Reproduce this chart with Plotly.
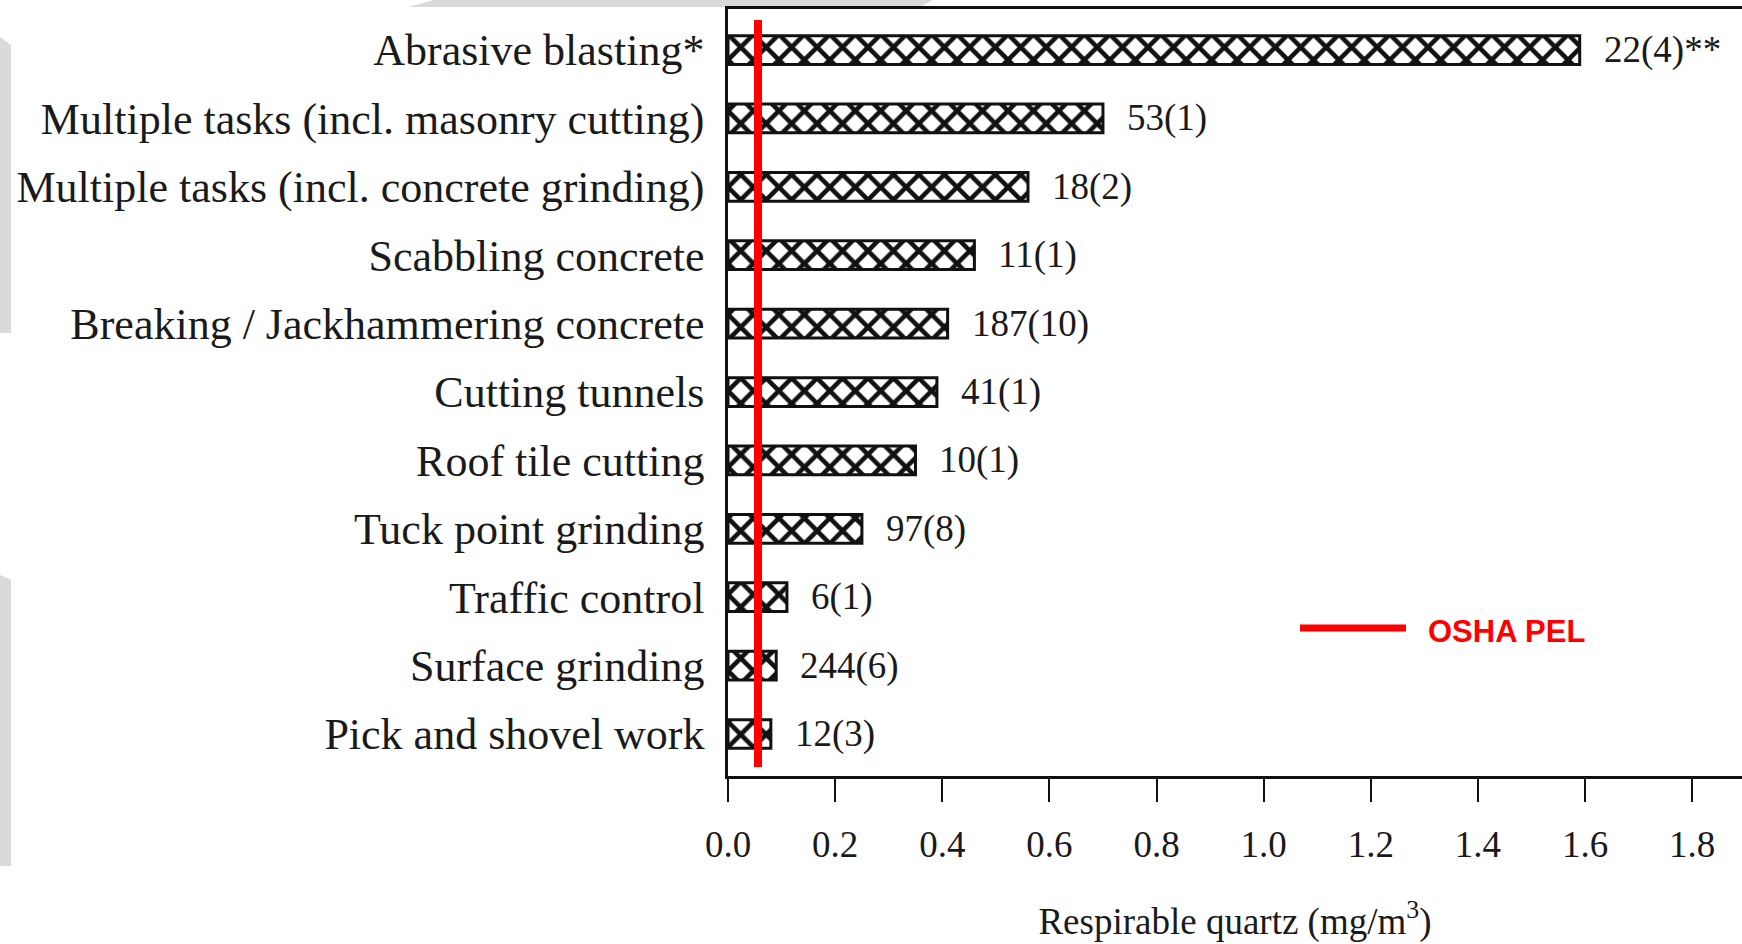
import plotly.graph_objects as go

# ---- data (top to bottom as displayed) ----
categories = [
    "Abrasive blasting*",
    "Multiple tasks (incl. masonry cutting)",
    "Multiple tasks (incl. concrete grinding)",
    "Scabbling concrete",
    "Breaking / Jackhammering concrete",
    "Cutting tunnels",
    "Roof tile cutting",
    "Tuck point grinding",
    "Traffic control",
    "Surface grinding",
    "Pick and shovel work",
]
quartz = [1.59, 0.70, 0.56, 0.46, 0.41, 0.39, 0.35, 0.25, 0.11, 0.09, 0.08]
counts = ["22(4)**", "53(1)", "18(2)", "11(1)", "187(10)", "41(1)", "10(1)",
          "97(8)", "6(1)", "244(6)", "12(3)"]
osha_pel = 0.056
x_ticks = [0.0, 0.2, 0.4, 0.6, 0.8, 1.0, 1.2, 1.4, 1.6, 1.8]

W, H = 1742, 944
L, R, T, B = 728, 0, 9, 168
PW, PH = W - L - R, H - T - B

def px(x):
    return (x - L) / PW

def py(y):
    return (H - B - y) / PH

SERIF = "Liberation Serif, Times New Roman, serif"
INK = "#1a1a1a"

fig = go.Figure()
fig.add_trace(go.Bar(
    x=quartz,
    y=categories,
    orientation="h",
    width=0.42,
    marker=dict(
        color="white",
        line=dict(color="#111111", width=3),
        pattern=dict(shape="x", fgcolor="#111111", bgcolor="white",
                     size=18, solidity=0.45, fillmode="replace"),
    ),
    showlegend=False,
    hoverinfo="skip",
))

annotations = []
for c, v, t in zip(categories, quartz, counts):
    annotations.append(dict(
        x=v, y=c, xref="x", yref="y", text=t, showarrow=False,
        xanchor="left", yanchor="middle", xshift=22,
        font=dict(family=SERIF, size=37, color=INK),
    ))

# legend text
annotations.append(dict(
    x=px(1426), y=py(631), xref="paper", yref="paper",
    text="<b>OSHA PEL</b>", showarrow=False, xanchor="left", yanchor="middle",
    font=dict(family="Liberation Sans, Arial, sans-serif", size=31, color="#ff0000"),
))

shapes = [
    # scan artifacts (light gray)
    dict(type="path", xref="paper", yref="paper",
         path=f"M {px(408)},{py(7)} L {px(434)},{py(0)} L {px(933)},{py(0)} L {px(920)},{py(7)} Z",
         fillcolor="#dadada", line=dict(width=0), layer="below"),
    dict(type="path", xref="paper", yref="paper",
         path=f"M {px(0)},{py(37)} L {px(11)},{py(45)} L {px(11)},{py(333)} L {px(0)},{py(333)} Z",
         fillcolor="#dadada", line=dict(width=0), layer="below"),
    dict(type="path", xref="paper", yref="paper",
         path=f"M {px(0)},{py(575)} L {px(11)},{py(580)} L {px(11)},{py(866)} L {px(0)},{py(866)} Z",
         fillcolor="#dadada", line=dict(width=0), layer="below"),
    # OSHA PEL vertical line
    dict(type="line", xref="x", yref="paper", x0=osha_pel, x1=osha_pel,
         y0=py(767), y1=py(20), line=dict(color="#ff0000", width=8), layer="above"),
    # legend swatch
    dict(type="line", xref="paper", yref="paper", x0=px(1300), x1=px(1406),
         y0=py(628), y1=py(628), line=dict(color="#ff0000", width=7)),
]

fig.update_layout(
    width=W, height=H,
    margin=dict(l=L, r=R, t=T, b=B, pad=0),
    paper_bgcolor="white", plot_bgcolor="white",
    bargap=0.58,
    shapes=shapes,
    annotations=annotations,
    xaxis=dict(
        range=[0, 1.893],
        tickvals=x_ticks,
        ticktext=[f"{v:.1f}" for v in x_ticks],
        ticks="outside", ticklen=23, tickwidth=2, tickcolor="#111111",
        showline=True, linewidth=3, linecolor="#111111", mirror=True,
        showgrid=False, zeroline=False,
        tickfont=dict(family=SERIF, size=37, color=INK),
        ticklabelstandoff=11,
        title=dict(text="Respirable quartz (mg/m<sup>3</sup>)",
                   font=dict(family=SERIF, size=37, color=INK), standoff=44),
    ),
    yaxis=dict(
        categoryorder="array",
        categoryarray=list(reversed(categories)),
        range=[-0.614, 10.6],
        ticks="outside", ticklen=12, tickcolor="rgba(0,0,0,0)",
        showline=True, linewidth=2.5, linecolor="#111111", mirror=False,
        showgrid=False, zeroline=False,
        tickfont=dict(family=SERIF, size=44, color=INK),
    ),
)

fig.write_html("out.html",
               config={"displayModeBar": False},
               post_script="document.body.style.margin='0';document.body.style.overflow='hidden';")
